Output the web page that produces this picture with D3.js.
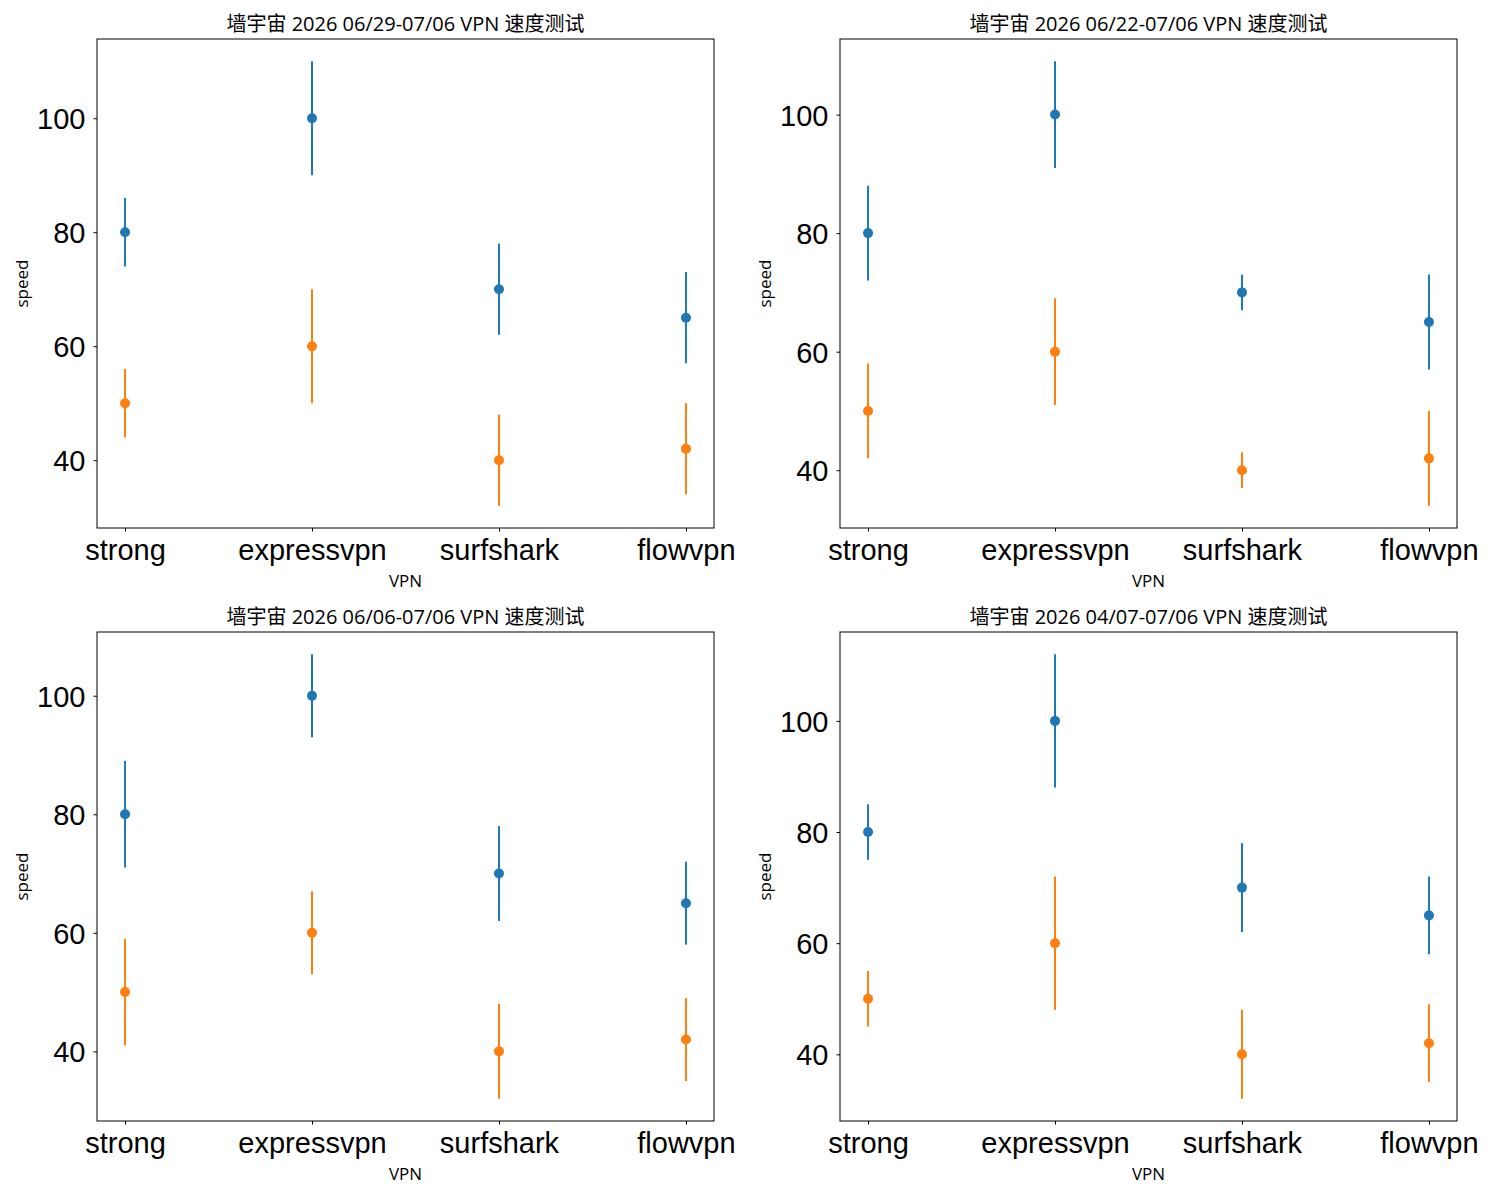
<!DOCTYPE html>
<html>
<head>
<meta charset="utf-8">
<script src="https://cdn.jsdelivr.net/npm/d3@7"></script>
<style>
  body { margin: 0; background: #fff; }
  svg { display: block; font-family: "Open Sans", "Noto Sans CJK SC", sans-serif; }
</style>
</head>
<body>
<svg id="chart" width="1500" height="1200"></svg>
<script>
// categories and tick labels
const vpns = ["strong", "expressvpn", "surfshark", "flowvpn"];
const yTicks = [40, 60, 80, 100];
const titles = [
  "墙宇宙 2026 06/29-07/06 VPN 速度测试",
  "墙宇宙 2026 06/22-07/06 VPN 速度测试",
  "墙宇宙 2026 06/06-07/06 VPN 速度测试",
  "墙宇宙 2026 04/07-07/06 VPN 速度测试"
];

// mean speeds (same in every panel)
const blueSpeed = [80, 100, 70, 65];
const orangeSpeed = [50, 60, 40, 42];

// error sizes per panel
const blueErr1 = [6, 10, 8, 8];
const orangeErr1 = [6, 10, 8, 8];
const blueErr2 = [8, 9, 3, 8];
const orangeErr2 = [8, 9, 3, 8];
const blueErr3 = [9, 7, 8, 7];
const orangeErr3 = [9, 7, 8, 7];
const blueErr4 = [5, 12, 8, 7];
const orangeErr4 = [5, 12, 8, 7];

const panels = [
  { title: titles[0], blue: blueErr1, orange: orangeErr1, x: 97, y: 39 },
  { title: titles[1], blue: blueErr2, orange: orangeErr2, x: 840, y: 39 },
  { title: titles[2], blue: blueErr3, orange: orangeErr3, x: 97, y: 632 },
  { title: titles[3], blue: blueErr4, orange: orangeErr4, x: 840, y: 632 }
];

const W = 617, H = 489;
const svg = d3.select("#chart");

panels.forEach(function (p) {
  const g = svg.append("g").attr("transform", "translate(" + p.x + "," + p.y + ")");

  const series = [
    { color: "#1f77b4", pts: blueSpeed.map((v, i) => ({ i: i, v: v, e: p.blue[i] })) },
    { color: "#ff7f0e", pts: orangeSpeed.map((v, i) => ({ i: i, v: v, e: p.orange[i] })) }
  ];

  // matplotlib style 5% margins
  let lo = d3.min(series, s => d3.min(s.pts, d => d.v - d.e));
  let hi = d3.max(series, s => d3.max(s.pts, d => d.v + d.e));
  const pad = (hi - lo) * 0.05;

  const x = d3.scaleLinear().domain([-0.15, 3.15]).range([0, W]);
  const y = d3.scaleLinear().domain([lo - pad, hi + pad]).range([H, 0]);

  series.forEach(function (s) {
    g.selectAll(null).data(s.pts).enter().append("line")
      .attr("x1", d => x(d.i)).attr("x2", d => x(d.i))
      .attr("y1", d => y(d.v - d.e)).attr("y2", d => y(d.v + d.e))
      .attr("stroke", s.color).attr("stroke-width", 2);
    g.selectAll(null).data(s.pts).enter().append("circle")
      .attr("cx", d => x(d.i)).attr("cy", d => y(d.v))
      .attr("r", 5).attr("fill", s.color);
  });

  // axes
  const xAxis = d3.axisBottom(x).tickValues([0, 1, 2, 3])
    .tickFormat(i => vpns[i]).tickSize(3.5).tickPadding(4);
  const yAxis = d3.axisLeft(y).tickValues(yTicks).tickSize(3.5).tickPadding(8);

  const gx = g.append("g").attr("transform", "translate(0," + H + ")").call(xAxis);
  const gy = g.append("g").call(yAxis);
  [gx, gy].forEach(function (a) {
    a.select(".domain").remove();
    a.selectAll("text").attr("font-size", 29).attr("font-family", null).attr("fill", "#000");
    a.selectAll("line").attr("stroke", "#000");
  });
  gx.selectAll("text").attr("dy", "0.86em");
  gy.selectAll("text").attr("dy", "0.36em");

  g.append("rect").attr("width", W).attr("height", H)
    .attr("fill", "none").attr("stroke", "#000").attr("stroke-width", 1);

  g.append("text").attr("x", W / 2).attr("y", -8)
    .attr("text-anchor", "middle").attr("font-size", 20).text(p.title);
  g.append("text").attr("x", W / 2).attr("y", H + 59)
    .attr("text-anchor", "middle").attr("font-size", 17).text("VPN");
  g.append("text")
    .attr("transform", "translate(-69," + (H / 2) + ") rotate(-90)")
    .attr("text-anchor", "middle").attr("font-size", 17).text("speed");
});
</script>
</body>
</html>
